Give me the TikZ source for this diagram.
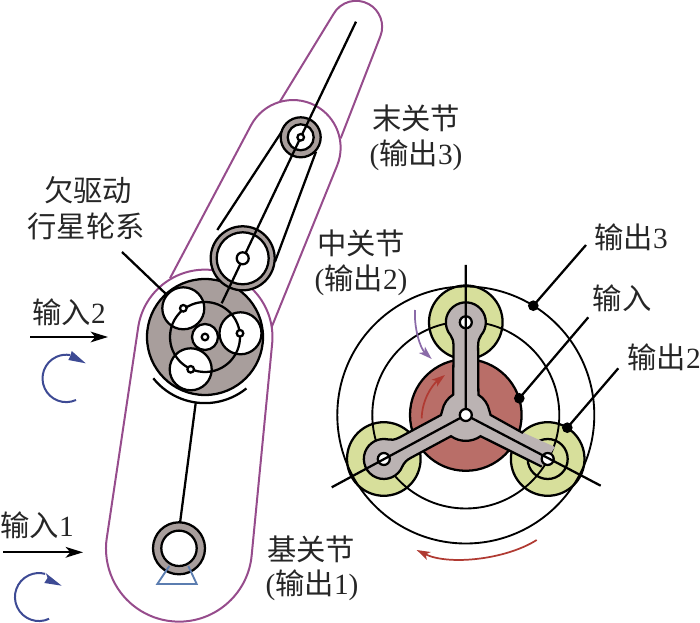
\documentclass[tikz,border=0pt]{standalone}
\usepackage{fontspec}
\setmainfont{Liberation Serif}
\newfontfamily\cjk{Noto Sans CJK SC}
\usetikzlibrary{arrows.meta}
\definecolor{linkc}{HTML}{964C8C}
\definecolor{gearc}{HTML}{A89E9C}
\definecolor{armc}{HTML}{BBB3B3}
\definecolor{redc}{HTML}{B96E68}
\definecolor{greenc}{HTML}{D7DF9B}
\definecolor{bluec}{HTML}{3D4A94}
\definecolor{trapc}{HTML}{5B7DB0}
\definecolor{redarrow}{HTML}{B03A32}
\definecolor{purparrow}{HTML}{8A6AA8}
\tikzset{
  linkline/.style={draw=linkc,line width=1.5pt},
  ln/.style={draw=black,line width=1.7pt},
  thin ln/.style={draw=black,line width=1.4pt},
  label/.style={font=\fontsize{22}{26}\selectfont,inner sep=0pt,text=black!85},
  leaderdot/.style={circle,fill=black,inner sep=0pt,minimum size=8pt},
  bigarrow/.style={draw=black,line width=1.6pt,-{Stealth[length=13pt,width=8pt,inset=3.5pt]}},
  rotarrow/.style={draw=bluec,line width=1.5pt},
  rothead/.style={fill=bluec},
  curvearrow/.style={line width=1.3pt,-{Stealth[length=10pt,width=6.5pt,inset=2.5pt]}}
}
\begin{document}
\begin{tikzpicture}[x=0.75pt,y=-0.75pt]
\useasboundingbox (0,0) rectangle (700,623);
% --- links (purple)
\draw[linkline] (280,101.5) -- (333.4,14.2) arc[start angle=209,end angle=380.7,radius=26] -- (340.7,138.3);
\draw[linkline] (170,278.3) -- (251,125.3) arc[start angle=208,end angle=381.5,radius=47.6] -- (271.7,327);
\draw[linkline] (106.9,537.3) -- (138.3,326.6) arc[start angle=189,end angle=365,radius=67.5] -- (251.7,555) arc[start angle=5,end angle=189,radius=73];
% --- belts and links
\draw[ln] (217.3,230) -- (281.7,131.7);
\draw[ln] (275,261.7) -- (316,151.7);
% --- planetary gear set
\draw[ln,fill=gearc] (205,337) circle[radius=58];
\draw[ln,fill=white] (183.3,308.3) circle[radius=21];
\draw[ln,fill=white] (240.5,333.3) circle[radius=21];
\draw[ln,fill=white] (190.7,369.3) circle[radius=21];
\draw[ln] (205,337) circle[radius=35];
\draw[ln,fill=white] (205,337) circle[radius=13];
\draw[ln,fill=white] (205,337) circle[radius=3.3];
\draw[ln,fill=white] (183.3,308.3) circle[radius=3.3];
\draw[ln,fill=white] (240,333.3) circle[radius=3.3];
\draw[ln,fill=white] (190.7,369.3) circle[radius=3.3];
\draw[ln] (153.3,378.3) arc[start angle=141.4,end angle=51,radius=66];
% --- pulleys
\draw[ln,fill=gearc] (242.7,258.3) circle[radius=32];
\draw[ln,fill=white] (242.7,258.3) circle[radius=26];
\draw[ln,fill=gearc] (300.7,137.3) circle[radius=20];
\draw[ln,fill=white] (300.7,137.3) circle[radius=13];
\draw[ln] (221.7,303.3) -- (300.7,137.3);
\draw[ln] (300.7,137.3) -- (356,21.7);
\draw[ln,fill=white] (242.7,258.3) circle[radius=6];
\draw[ln,fill=white] (300.7,137.3) circle[radius=3.3];
% --- base joint
\draw[ln] (180,523) -- (195.7,403);
\draw[ln,fill=gearc] (179,548.3) circle[radius=26];
\draw[ln,fill=white] (179,548.3) circle[radius=17.7];
\draw[draw=trapc,line width=1.4pt] (169.3,566) -- (157.3,584) -- (196.7,584) -- (188.3,566);
% --- inputs
\coordinate (in2a) at (30,337); \coordinate (in2b) at (108,337);
\coordinate (in1a) at (3,552.3); \coordinate (in1b) at (83,552.3);
\draw[bigarrow] (in2a) -- (in2b);
\draw[bigarrow] (in1a) -- (in1b);
\draw[rotarrow] (76,400) arc[start angle=65.6,end angle=280,radius=23.7];
\fill[rothead] (71.7,351) -- (85.7,363.3) -- (68.3,360) -- (70.5,355.5) -- cycle;
\draw[rotarrow] (49.1,618.8) arc[start angle=65,end angle=285,radius=24];
\fill[rothead] (46,573.3) -- (61.7,585.7) -- (44.3,583) -- (47.5,578) -- cycle;
% --- right-hand view
\draw[ln,fill=greenc] (465.8,322.3) circle[radius=36.8];
\draw[ln,fill=greenc] (383.8,459) circle[radius=36.8];
\draw[ln,fill=greenc] (547.7,459) circle[radius=36.8];
\draw[ln,fill=redc] (465.8,415) circle[radius=55.8];
\draw[thin ln] (465.8,415) circle[radius=128.5];
\draw[thin ln] (465.8,415) circle[radius=93.5];
\draw[ln] (547.7,459) circle[radius=20];
% arm tip on the right (no outline)
\fill[armc] (515,429) -- (555,447) -- (541.7,466.7) -- (525,458) -- cycle;
% arm body
\filldraw[ln,fill=armc] (541.7,466.7) -- (480.6,436.2)
  arc[start angle=55,end angle=125,radius=25.8]
  -- (410.7,457.9) .. controls (406.5,460) and (404,463) .. (402.4,466.4)
  arc[start angle=21.8,end angle=281.8,radius=20]
  .. controls (391,440) and (394,440.3) .. (399.7,437.3)
  -- (441,415) -- (442.3,410.3)
  arc[start angle=191.3,end angle=238.2,radius=24]
  -- (453.5,346) .. controls (453.5,341) and (452.5,338) .. (450.5,335.2)
  arc[start angle=140,end angle=400,radius=20]
  .. controls (479.1,338) and (478.1,341) .. (478.1,346)
  -- (478.4,394.8)
  arc[start angle=301.8,end angle=348.7,radius=24]
  -- (490.6,415) -- (523,433);
% holes and spokes
\draw[ln,fill=white] (465.8,322.3) circle[radius=6];
\draw[ln,fill=white] (383.8,459) circle[radius=6];
\draw[ln,fill=white] (547.7,459) circle[radius=6];
\coordinate (hub) at (465.8,415);
\coordinate (spokeT) at (465.7,265);
\coordinate (spokeL) at (331.7,487.3);
\coordinate (spokeR) at (600.7,485.7);
\draw[ln] (hub) -- (spokeT);
\draw[ln] (hub) -- (spokeL);
\draw[ln] (hub) -- (spokeR);
\draw[ln,fill=white] (hub) circle[radius=6];
% rotation arrows
\draw[curvearrow,draw=purparrow] (415,310) .. controls (414,328) and (420,348) .. (431.7,359);
\draw[curvearrow,draw=redarrow] (421.7,418.3) .. controls (422,400) and (432,385) .. (445,375);
\draw[curvearrow,draw=redarrow] (536.7,540) .. controls (505,560) and (448,565.5) .. (416.7,550);
% leaders
\node[leaderdot] (d3) at (533.3,305.7) {};
\node[leaderdot] (d1) at (519.3,398.3) {};
\node[leaderdot] (d2) at (567.3,427.7) {};
\coordinate (l3) at (586,245);
\coordinate (l1) at (588.3,317.3);
\coordinate (l2) at (618.3,368.3);
\coordinate (l4) at (122,252);
\coordinate (l4e) at (166,294);
\draw[ln] (l3) -- (d3.center);
\draw[ln] (l1) -- (d1.center);
\draw[ln] (l2) -- (d2.center);
\draw[ln] (l4) -- (l4e);
% labels
\node[label] (t1) at (88,190) {\cjk 欠驱动};
\node[label] (t2) at (86,226) {\cjk 行星轮系};
\node[label] (t3) at (69,312) {{\cjk 输入}2};
\node[label] (t4) at (37,525) {{\cjk 输入}1};
\node[label] (t5) at (416,118) {\cjk 末关节};
\node[label] (t6) at (416,155) {({\cjk 输出}3)};
\node[label] (t7) at (361,243) {\cjk 中关节};
\node[label] (t8) at (361,280) {({\cjk 输出}2)};
\node[label] (t9) at (311,549) {\cjk 基关节};
\node[label] (t10) at (312,585) {({\cjk 输出}1)};
\node[label] (t11) at (631,237) {{\cjk 输出}3};
\node[label] (t12) at (622,298) {\cjk 输入};
\node[label] (t13) at (664,357) {{\cjk 输出}2};
\end{tikzpicture}
\end{document}
